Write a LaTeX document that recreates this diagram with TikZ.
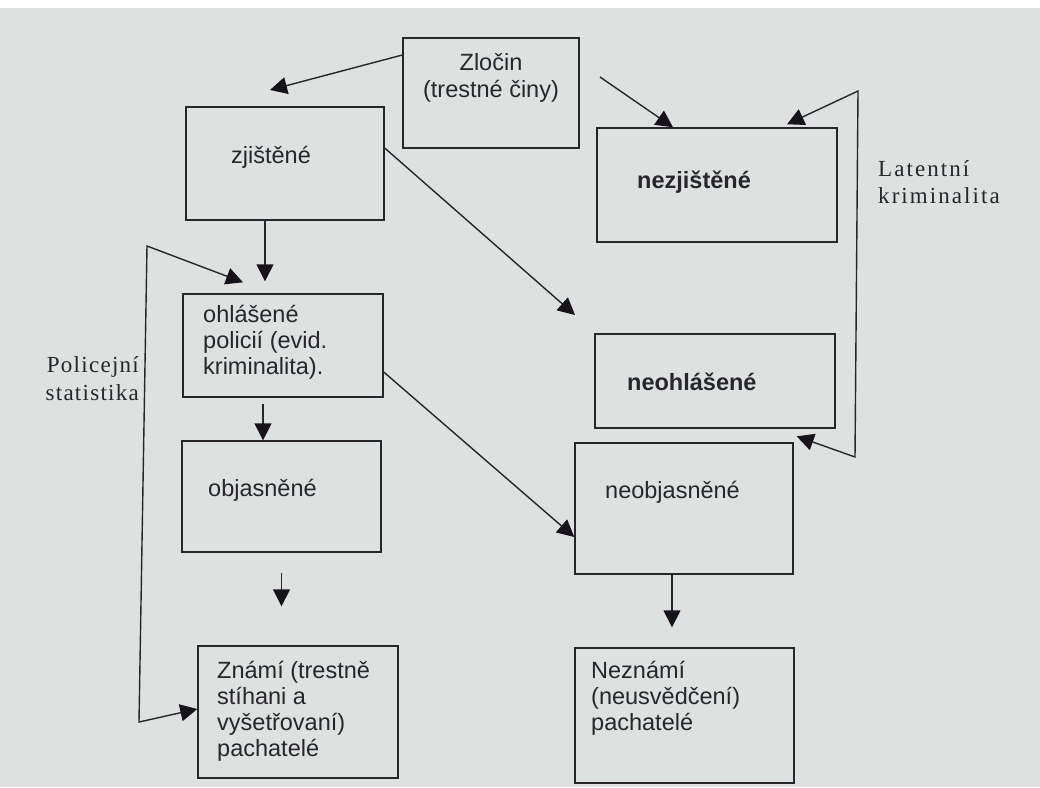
\documentclass[tikz,border=0pt]{standalone}
\usepackage{fontspec}
\setmainfont{Liberation Serif}
\setsansfont{Liberation Sans}
\newfontfamily\latfont[LetterSpace=9]{Liberation Serif}
\newfontfamily\polfont[LetterSpace=5.5]{Liberation Serif}
\usepackage{tikz}
\usetikzlibrary{arrows.meta}
\definecolor{paper}{RGB}{221,225,224}
\definecolor{ink}{RGB}{40,38,44}
\definecolor{tipink}{RGB}{24,18,26}
\tikzset{
    box/.style={draw=ink, line width=1.4pt, rectangle, inner sep=0pt},
    txt/.style={font=\sffamily\fontsize{23.5}{26}\selectfont, text=ink, inner sep=0pt, align=left},
    side/.style={font=\fontsize{23}{27}\selectfont, text=ink, inner sep=0pt},
    link/.style={draw=ink, line width=1.4pt},
    head/.style={-{Triangle[length=17pt, width=17pt, color=tipink]}},
    heads/.style={{Triangle[length=17pt, width=17pt, color=tipink]}-{Triangle[length=17pt, width=17pt, color=tipink]}}
}

\begin{document}
\begin{tikzpicture}[x=1pt, y=-1pt]
                \fill[paper] (0,0) rectangle (1040,787);
                \fill[white] (0,0) rectangle (1040,8);

                \node[box, minimum width=176pt, minimum height=110pt] (zlocin) at (491,93) {};
                \node[box, minimum width=198pt, minimum height=113pt] (zjistene) at (285,163.5) {};
                \node[box, minimum width=240pt, minimum height=114pt] (nezjistene) at (717,185) {};
                \node[box, minimum width=200pt, minimum height=103pt] (ohlasene) at (283,345.5) {};
                \node[box, minimum width=240pt, minimum height=94pt] (neohlasene) at (715,381) {};
                \node[box, minimum width=199pt, minimum height=111pt] (objasnene) at (281.5,496.5) {};
                \node[box, minimum width=218pt, minimum height=131pt] (neobjasnene) at (684,508.5) {};
                \node[box, minimum width=200pt, minimum height=132pt] (znami) at (298,712) {};
                \node[box, minimum width=219pt, minimum height=135pt] (neznami) at (684.5,715.5) {};

                \node[txt, align=center, anchor=north] (zlocintext) at (491,53) {Zločin\\[1pt](trestné činy)};
                \node[txt, anchor=base west] (zjistenetext) at (231,163) {zjištěné};
                \node[txt, anchor=base west, font=\sffamily\bfseries\fontsize{23.5}{26}\selectfont] (nezjistenetext) at (637,188) {nezjištěné};
                \node[txt, anchor=base west, font=\sffamily\bfseries\fontsize{23.5}{26}\selectfont] (neohlasenetext) at (627,390) {neohlášené};
                \node[txt, anchor=north west] (ohlasenetext) at (203,305) {ohlášené\\policií (evid.\\kriminalita).};
                \node[txt, anchor=base west] (objasnenetext) at (208,496) {objasněné};
                \node[txt, anchor=base west] (neobjasnenetext) at (605,498) {neobjasněné};
                \node[txt, anchor=north west] (znamitext) at (217,661) {Známí (trestně\\stíhani a\\vyšetřovaní)\\pachatelé};
                \node[txt, anchor=north west] (neznamitext) at (591,661) {Neznámí\\(neusvědčení)\\pachatelé};

                \node[side, anchor=north west, align=left, font=\latfont\fontsize{23}{27}\selectfont] (latentni) at (878,160) {Latentní\\kriminalita};
                \node[side, anchor=north east, align=right, font=\polfont\fontsize{23}{28}\selectfont] (policejni) at (139,356) {Policejní\\statistika};

                \coordinate (zltip) at (270,90);
                \coordinate (zlstart) at (600,77);
                \coordinate (nhtip) at (575,315);
                \coordinate (ps1) at (147,246);
                \coordinate (ps2) at (139,722);
                \coordinate (lk1) at (858,91);
                \coordinate (lk2) at (855,457);

                \draw[link, head] ([yshift=38pt]zlocin.west) -- (zltip);
                \draw[link, head] (zlstart) -- ([xshift=-44pt]nezjistene.north);
                \draw[link, head] ([yshift=15.5pt]zjistene.east) -- (nhtip);
                \draw[link, head, shorten >=12pt] ([xshift=-20pt]zjistene.south) -- ([xshift=-18pt]ohlasene.north);
                \draw[link, heads] ([xshift=-40pt, yshift=11pt]ohlasene.north) -- (ps1) -- (ps2) -- ([yshift=3pt]znami.west);
                \draw[link, head, shorten <=6pt] ([xshift=-20pt]ohlasene.south) -- ([xshift=-18.5pt]objasnene.north);
                \draw[link, head] ([yshift=-26.5pt]ohlasene.east) -- ([yshift=-28.5pt]neobjasnene.west);
                \draw[link, head, shorten <=20pt, shorten >=39pt] (objasnene.south) -- (objasnene.south |- znami.north);
                \draw[link, head, shorten >=20pt] ([xshift=-12pt]neobjasnene.south) -- ([xshift=-12.5pt]neznami.north);
                \draw[link, heads] ([xshift=70pt, yshift=3pt]nezjistene.north) -- (lk1) -- (lk2) -- ([xshift=3pt, yshift=6pt]neobjasnene.north east);

\end{tikzpicture}
\end{document}
